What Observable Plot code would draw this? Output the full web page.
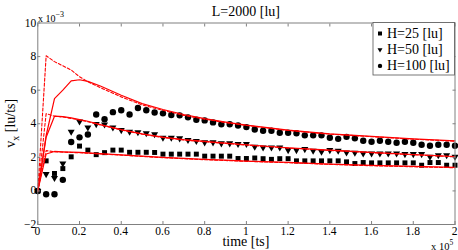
<!DOCTYPE html>
<html><head><meta charset="utf-8">
<script src="https://cdn.jsdelivr.net/npm/d3@7"></script>
<script src="https://cdn.jsdelivr.net/npm/@observablehq/plot@0.6"></script>
<style>
html,body{margin:0;padding:0;background:#fff;}
#chart svg{display:block;}
</style></head><body><div id="chart"></div>
<script>
// time in units of 1e5 ts, velocity in units of 1e-3 lu/ts
const time = [0,0.04,0.08,0.12,0.16,0.20,0.24,0.28,0.32,0.36,0.40,0.44,0.48,0.52,0.56,0.60,0.64,0.68,0.72,0.76,0.80,0.84,0.88,0.92,0.96,1.00,1.04,1.08,1.12,1.16,1.20,1.24,1.28,1.32,1.36,1.40,1.44,1.48,1.52,1.56,1.60,1.64,1.68,1.72,1.76,1.80,1.84,1.88,1.92,1.96,2.00];
const vH25 = [0,1.79,1.04,1.33,2.03,2.67,2.43,2.16,2.28,2.43,2.43,2.3,2.3,2.3,2.29,2.19,2.19,2.19,2.19,2.19,2.07,2.07,2.07,2.07,1.93,1.93,1.96,1.92,1.88,1.92,1.92,1.79,1.79,1.79,1.79,1.79,1.79,1.73,1.63,1.69,1.67,1.67,1.67,1.67,1.67,1.67,1.53,1.69,1.69,1.53,1.53];
const vH50 = [0,1.0,0.77,1.63,3.52,4.14,3.78,3.98,3.96,3.78,3.62,3.52,3.49,3.43,3.37,3.17,3.17,3.13,3.03,2.97,2.89,2.89,2.83,2.83,2.79,2.8,2.63,2.59,2.59,2.59,2.43,2.43,2.49,2.39,2.33,2.43,2.39,2.29,2.27,2.23,2.23,2.23,2.23,2.23,2.19,2.19,2.19,2.03,2.13,2.13,2.03];
const vH100 = [0,-0.2,-0.2,0.66,2.91,3.19,3.36,4.55,4.27,4.69,4.8,4.55,4.94,4.8,4.67,4.62,4.52,4.5,4.38,4.24,4.2,4.08,3.97,3.97,3.9,3.8,3.66,3.58,3.58,3.46,3.46,3.43,3.31,3.31,3.31,3.17,3.1,3.22,3.13,2.99,2.93,2.99,2.93,2.87,2.93,2.87,2.75,2.69,2.75,2.75,2.69];

const simTime = [0,0.04,0.08,0.12,0.16,0.2,0.24,0.3,0.4,0.5,0.6,0.7,0.8,0.9,1.0,1.2,1.4,1.6,1.8,2.0];
const simH100Solid  = [0,3.3,5.5,6.0,6.55,6.62,6.52,6.25,5.7,5.2,4.85,4.55,4.3,4.1,3.92,3.62,3.4,3.25,3.1,2.98];
const simH100Dashed = [0,8.05,7.7,7.45,7.2,6.8,6.5,6.15,5.6,5.12,4.8,4.5,4.27,4.07,3.9,3.6,3.38,3.23,3.08,2.96];
const simH50Solid   = [0,3.2,4.45,4.42,4.35,4.25,4.15,3.95,3.65,3.4,3.2,3.05,2.95,2.85,2.75,2.57,2.43,2.3,2.17,2.05];
const simH50Dashed  = [0,4.6,4.45,4.4,4.32,4.22,4.12,3.93,3.63,3.38,3.18,3.03,2.93,2.83,2.73,2.55,2.41,2.28,2.15,2.03];
const simH25Solid   = [0,2.2,2.35,2.33,2.31,2.29,2.26,2.22,2.15,2.07,2.0,1.94,1.88,1.83,1.78,1.7,1.6,1.52,1.46,1.4];
const simH25Dashed  = [0,2.4,2.33,2.31,2.29,2.27,2.24,2.2,2.13,2.05,1.98,1.92,1.86,1.81,1.76,1.68,1.58,1.5,1.44,1.38];

const xTicks = [0,0.2,0.4,0.6,0.8,1,1.2,1.4,1.6,1.8,2];
const yTicks = [-2,0,2,4,6,8,10];
const legendLabels = ["H=25 [lu]","H=50 [lu]","H=100 [lu]"];
const titleText = "L=2000 [lu]";
const xLabel = "time [ts]";

const pts = (ys) => time.map((t,i)=>({t, v: ys[i]}));
const simRows = (ys, name) => simTime.map((t,i)=>({t, v: ys[i], s: name}));
const solid = [...simRows(simH100Solid,"a"),...simRows(simH50Solid,"b"),...simRows(simH25Solid,"c")];
const dashed = [...simRows(simH100Dashed,"a"),...simRows(simH50Dashed,"b"),...simRows(simH25Dashed,"c")];

const W=458, H=250, mL=37.3, mR=3.5, mT=22.5, mB=26;
const grey = "#808080";
const font = "'Liberation Serif', 'Times New Roman', serif";
const fmtX = d => String(Math.round(d*10)/10);
const fmtY = d => d < 0 ? "\u2212" + (-d) : String(d);
const blank = () => "";

const plot = Plot.plot({
  width: W, height: H,
  marginLeft: mL, marginRight: mR, marginTop: mT, marginBottom: mB,
  style: {fontFamily: font, fontSize: "11.5px", color: "black", background: "white", overflow: "visible"},
  x: {domain: [0, 2]},
  y: {domain: [-2, 10]},
  marks: [
    Plot.dot(pts(vH25), {x: "t", y: "v", symbol: "square", r: 2.8, fill: "black", stroke: "none"}),
    Plot.dot(pts(vH50), {x: "t", y: "v", symbol: "triangle", rotate: 180, r: 2.6, fill: "black", stroke: "none"}),
    Plot.dot(pts(vH100), {x: "t", y: "v", symbol: "circle", r: 3.2, fill: "black", stroke: "none"}),
    Plot.line(dashed, {x: "t", y: "v", z: "s", stroke: "#ff0000", strokeWidth: 1.1, strokeDasharray: "3,2"}),
    Plot.line(solid, {x: "t", y: "v", z: "s", stroke: "#ff0000", strokeWidth: 1.2}),
    Plot.frame({stroke: grey, strokeWidth: 1}),
    Plot.axisX({ticks: xTicks, anchor: "bottom", tickSize: -3, tickFormat: blank, label: null, stroke: grey}),
    Plot.axisX({ticks: xTicks, anchor: "top", tickSize: -3, tickFormat: blank, label: null, stroke: grey}),
    Plot.axisY({ticks: yTicks, anchor: "left", tickSize: -3, tickFormat: blank, label: null, stroke: grey}),
    Plot.axisY({ticks: yTicks, anchor: "right", tickSize: -3, tickFormat: blank, label: null, stroke: grey})
  ]
});
document.getElementById("chart").appendChild(plot);

const sx = plot.scale("x"), sy = plot.scale("y");
const svg = d3.select(plot);
const txt = (x, y, anchor, size) => svg.append("text").attr("x", x).attr("y", y)
  .attr("text-anchor", anchor).attr("font-family", font).attr("font-size", size).attr("fill", "black");

// tick labels placed with Plot's scales
xTicks.forEach(v => txt(sx.apply(v), H - mB + 10.8, "middle", 11.5).text(fmtX(v)));
yTicks.forEach(v => txt(mL - 1, sy.apply(v) + 4, "end", 11.5).text(fmtY(v)));

const cx = mL + (W - mL - mR) / 2;
txt(cx, 15.5, "middle", 14).text(titleText);
txt(cx, 245.5, "middle", 14).text(xLabel);

// y label
const yl = svg.append("text").attr("transform", `translate(15,${(mT + H - mB)/2}) rotate(-90)`)
  .attr("text-anchor", "middle").attr("font-family", font).attr("font-size", 14).attr("fill", "black");
yl.append("tspan").text("v");
yl.append("tspan").attr("dy", 4).attr("font-size", 10).text("x");
yl.append("tspan").attr("dy", -4).text(" [lu/ts]");

// exponent labels
const e1 = txt(38, 21.5, "start", 10);
e1.append("tspan").text("x 10");
e1.append("tspan").attr("dy", -4.5).attr("font-size", 8).text("\u22123");
const e2 = txt(431, 249.5, "start", 10.5);
e2.append("tspan").text("x 10");
e2.append("tspan").attr("dy", -5).attr("font-size", 7.5).text("5");

// legend
const lw = 81.5, lh = 52.5;
const lx1 = W - mR - lw, ly1 = mT;
const lg = svg.append("g");
lg.append("rect").attr("x", lx1).attr("y", ly1).attr("width", lw).attr("height", lh)
  .attr("fill", "white").attr("stroke", "#555").attr("stroke-width", 0.8);
const legSymbols = [d3.symbol(d3.symbolSquare, 16), d3.symbol(d3.symbolTriangle, 11), d3.symbol(d3.symbolCircle, 15)];
legendLabels.forEach((lab, i) => {
  const yy = ly1 + 11 + i * 16.2;
  lg.append("path").attr("d", legSymbols[i]()).attr("fill", "black")
    .attr("transform", `translate(${lx1 + 7},${yy})` + (i === 1 ? " rotate(180)" : ""));
  lg.append("text").attr("x", lx1 + 14).attr("y", yy + 4.5).attr("text-anchor", "start")
    .attr("font-family", font).attr("font-size", 14).attr("fill", "black").text(lab);
});
</script>
</body></html>
